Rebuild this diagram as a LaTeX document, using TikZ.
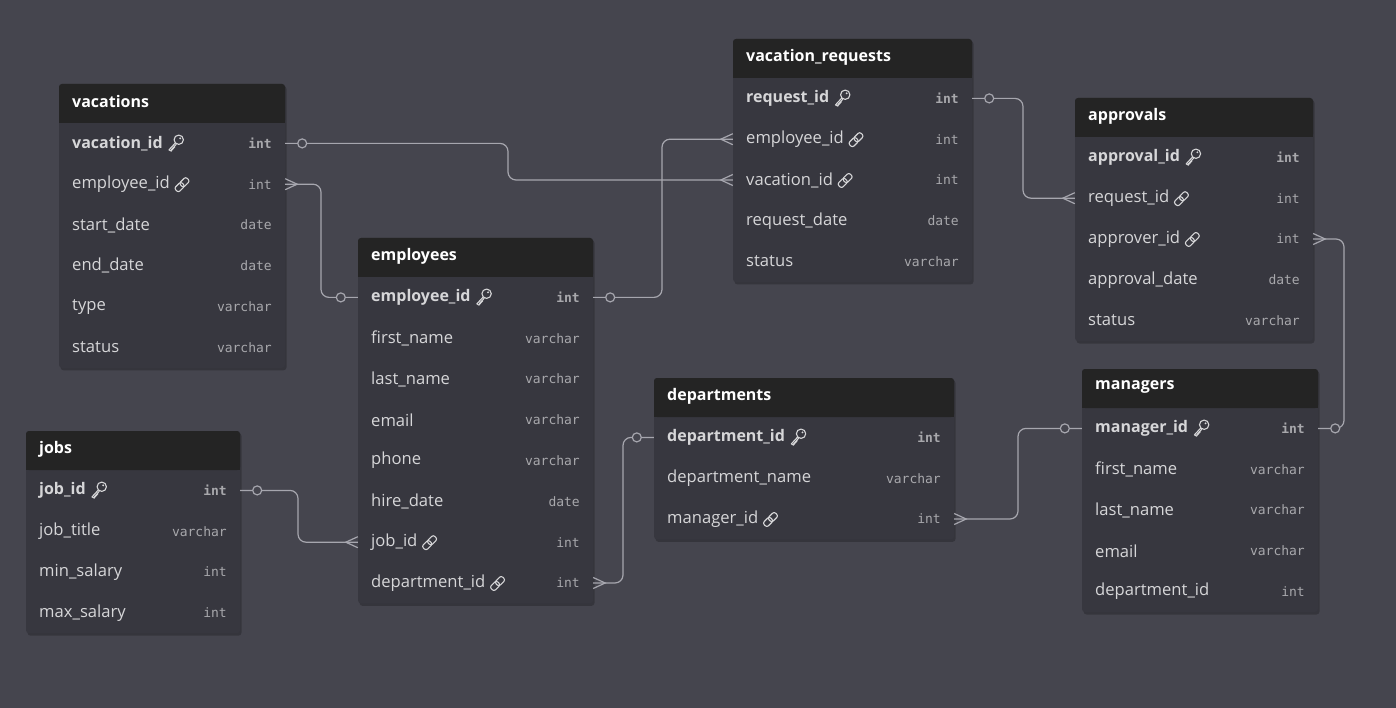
\documentclass[tikz,border=0pt]{standalone}
\usepackage{fontspec}
\setmainfont{Open Sans}
\newfontfamily\monof{DejaVu Sans Mono}
\definecolor{bgc}{HTML}{45454E}
\definecolor{bodyc}{HTML}{37373F}
\definecolor{hdrc}{HTML}{242424}
\definecolor{namec}{HTML}{D6D6D8}
\definecolor{typec}{HTML}{A8A8AC}
\definecolor{linec}{HTML}{A6A6AE}
\tikzset{
  titlef/.style={font=\bfseries\fontsize{16}{18}\selectfont, text=white, inner sep=0pt},
  fld-p/.style={font=\bfseries\fontsize{16}{18}\selectfont, text=namec, inner sep=0pt},
  fld-f/.style={font=\fontsize{16.6}{18}\selectfont, text=namec, inner sep=0pt},
  fld-n/.style={font=\fontsize{16.6}{18}\selectfont, text=namec, inner sep=0pt},
  typ-p/.style={font=\monof\bfseries\fontsize{13}{16}\selectfont, text=typec, inner sep=0pt},
  typ-f/.style={font=\monof\fontsize{13}{16}\selectfont, text=typec, inner sep=0pt},
  typ-n/.style={font=\monof\fontsize{13}{16}\selectfont, text=typec, inner sep=0pt},
  rowbox/.style={draw=none, inner sep=0pt, minimum height=40.8pt},
  rel/.style={draw=linec, line width=1.2pt, rounded corners=8pt},
  relend/.style={draw=linec, line width=1.2pt},
  iconln/.style={draw=namec, line width=1.1pt, line cap=round, line join=round},
  keyicon/.pic={
    \begin{scope}[scale=1.3]
    \draw[iconln] (4.5,-3.2) circle (3.6);
    \fill[namec] (5.6,-4.3) circle (0.8);
    \draw[iconln] (1.8,-0.6) -- (-3,4.6) -- (-1.2,5.6) (1.5,2.2) -- (-1,5) ;
    \draw[iconln] (2.6,0.3) -- (-1.2,4.5);
    \end{scope}
  },
  linkicon/.pic={
    \begin{scope}[scale=1.25]
    \draw[iconln, rotate=45, rounded corners=2.2] (-6.5,-2.4) rectangle (1,2.4);
    \draw[iconln, rotate=45, rounded corners=2.2] (-1,-2.4) rectangle (6.5,2.4);
    \end{scope}
  },
}
\newcommand\erdtab[7]{% id, x, y, w, nrows, title, rows
  \pgfmathsetmacro\tbot{#3+39+40.8*#5}
  \fill[black, opacity=0.22, rounded corners=3pt] (#2+1.5,#3+2) rectangle (#2+#4+1.5,\tbot+2.5);
  \fill[bodyc, rounded corners=3pt] (#2,#3) rectangle (#2+#4,\tbot);
  \fill[hdrc, rounded corners=3pt] (#2,#3) rectangle (#2+#4,#3+39);
  \fill[hdrc] (#2,#3+30) rectangle (#2+#4,#3+39);
  \node[titlef, anchor=west] (#1) at (#2+13,#3+18) {#6};
  \foreach \f/\t/\k [count=\i] in {#7}{
    \pgfmathsetmacro\ry{#3+39+20.4+40.8*(\i-1)}
    \node[rowbox, minimum width=#4pt] (#1-\i) at (#2+#4/2,\ry) {};
    \node[fld-\k, anchor=west] (#1-\i-n) at (#2+13,\ry) {\f};
    \node[typ-\k, anchor=east] (#1-\i-t) at (#2+#4-13,\ry) {\t};
    \if p\k \path ([xshift=10pt,yshift=-0.5pt]#1-\i-n.east) pic {keyicon};\fi
    \if f\k \path ([xshift=12pt,yshift=-0.5pt]#1-\i-n.east) pic {linkicon};\fi
  }
}
\newcommand\crowE[1]{\draw[relend] ([yshift=5.5pt]#1) -- ([xshift=12pt]#1) -- ([yshift=-5.5pt]#1);}
\newcommand\crowW[1]{\draw[relend] ([yshift=5.5pt]#1) -- ([xshift=-12pt]#1) -- ([yshift=-5.5pt]#1);}
\newcommand\oneE[1]{\draw[relend, fill=bgc] ([xshift=17pt]#1) circle (4.5);}
\newcommand\oneW[1]{\draw[relend, fill=bgc] ([xshift=-17pt]#1) circle (4.5);}
\begin{document}
\begin{tikzpicture}[x=1pt,y=-1pt]
\fill[bgc] (0,0) rectangle (1396,708);
\useasboundingbox (0,0) rectangle (1396,708);

\erdtab{vac}{59}{84}{226}{6}{vacations}{vacation\_id/int/p, employee\_id/int/f, start\_date/date/n, end\_date/date/n, type/varchar/n, status/varchar/n}
\erdtab{vr}{733}{39}{239}{5}{vacation\_requests}{request\_id/int/p, employee\_id/int/f, vacation\_id/int/f, request\_date/date/n, status/varchar/n}
\erdtab{ap}{1075}{98}{238}{5}{approvals}{approval\_id/int/p, request\_id/int/f, approver\_id/int/f, approval\_date/date/n, status/varchar/n}
\erdtab{emp}{358}{238}{235}{8}{employees}{employee\_id/int/p, first\_name/varchar/n, last\_name/varchar/n, email/varchar/n, phone/varchar/n, hire\_date/date/n, job\_id/int/f, department\_id/int/f}
\erdtab{jb}{26}{431}{214}{4}{jobs}{job\_id/int/p, job\_title/varchar/n, min\_salary/int/n, max\_salary/int/n}
\erdtab{dp}{654}{378}{300}{3}{departments}{department\_id/int/p, department\_name/varchar/n, manager\_id/int/f}
\erdtab{mg}{1082}{369}{236}{5}{managers}{manager\_id/int/p, first\_name/varchar/n, last\_name/varchar/n, email/varchar/n, department\_id/int/n}

\coordinate (x1) at (508,0);
\coordinate (x2) at (321,0);
\coordinate (x3) at (662,0);
\coordinate (x4) at (1023,0);
\coordinate (x5) at (1344,0);
\coordinate (x6) at (1018,0);
\coordinate (x7) at (298,0);
\coordinate (x8) at (623,0);

\draw[rel] (vac-1.east) -- (x1 |- vac-1.east) -- (x1 |- vr-3.west) -- (vr-3.west);
\draw[rel] (vac-2.east) -- (x2 |- vac-2.east) -- (x2 |- emp-1.west) -- (emp-1.west);
\draw[rel] (emp-1.east) -- (x3 |- emp-1.east) -- (x3 |- vr-2.west) -- (vr-2.west);
\draw[rel] (vr-1.east) -- (x4 |- vr-1.east) -- (x4 |- ap-2.west) -- (ap-2.west);
\draw[rel] (ap-3.east) -- (x5 |- ap-3.east) -- (x5 |- mg-1.east) -- (mg-1.east);
\draw[rel] (dp-3.east) -- (x6 |- dp-3.east) -- (x6 |- mg-1.west) -- (mg-1.west);
\draw[rel] (jb-1.east) -- (x7 |- jb-1.east) -- (x7 |- emp-7.west) -- (emp-7.west);
\draw[rel] (emp-8.east) -- (x8 |- emp-8.east) -- (x8 |- dp-1.west) -- (dp-1.west);

\oneE{vac-1.east} \crowW{vr-3.west}
\crowE{vac-2.east} \oneW{emp-1.west}
\oneE{emp-1.east} \crowW{vr-2.west}
\oneE{vr-1.east} \crowW{ap-2.west}
\crowE{ap-3.east} \oneE{mg-1.east}
\crowE{dp-3.east} \oneW{mg-1.west}
\oneE{jb-1.east} \crowW{emp-7.west}
\crowE{emp-8.east} \oneW{dp-1.west}
\end{tikzpicture}
\end{document}
